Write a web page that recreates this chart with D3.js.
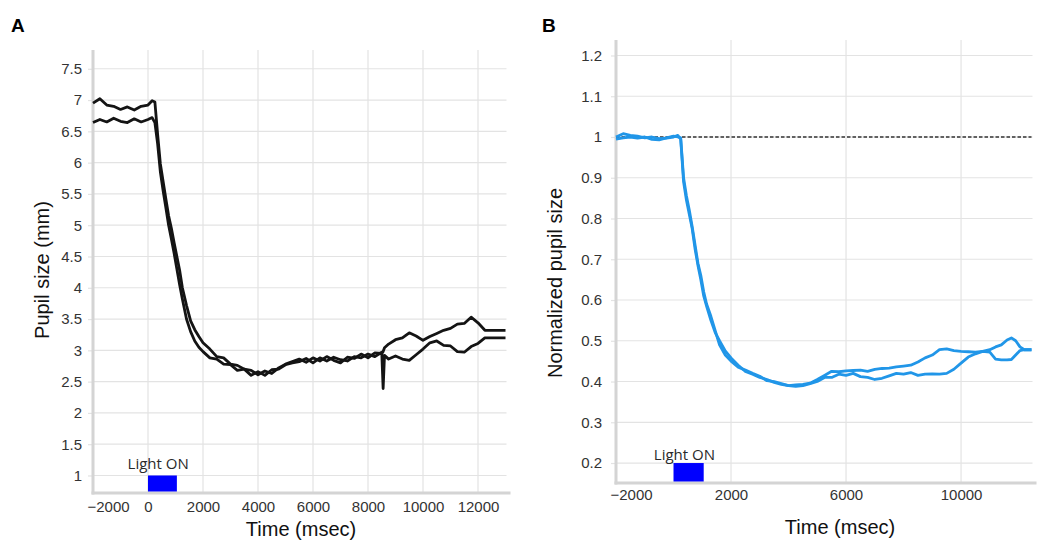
<!DOCTYPE html>
<meta charset="utf-8">
<style>
body { margin: 0; background: #fff; }
svg { display: block; font-family: "Open Sans", "Noto Sans", sans-serif; }
.grid line { stroke: #e3e3e3; stroke-width: 1.2px; }
.frame { stroke: #d4d4d4; stroke-width: 3px; }
.axis text { font-size: 15px; fill: #333; }
.axis line { stroke: #e3e3e3; stroke-width: 1.2px; }
.title { font-family: "Liberation Sans", Arial, sans-serif; font-size: 20px; fill: #111; }
.tag { font-family: "Liberation Sans", Arial, sans-serif; font-weight: bold; font-size: 19px; fill: #000; }
.light-label { font-size: 15px; fill: #2a2a2a; text-anchor: middle; }
</style>
<svg width="1048" height="541"></svg>
<script src="https://d3js.org/d3.v7.min.js"></script>
<script>

// ---- panel A : raw pupil size (mm), two traces
var timeA = [-2000, -1750, -1500, -1250, -1000, -750, -500, -250, 0, 150, 250, 350, 450, 550, 650, 750, 850, 950, 1050, 1150,
             1250, 1400, 1550, 1700, 1850, 2000, 2250, 2500, 2750, 3000, 3250, 3500, 3750, 4000, 4250, 4500, 4750, 5000, 5250, 5500,
             5750, 6000, 6250, 6500, 6750, 7000, 7250, 7500, 7750, 8000, 8250, 8500, 8550, 8600, 8750, 9000, 9250, 9500, 9750, 10000,
             10250, 10500, 10750, 11000, 11250, 11500, 11750, 12000, 12250, 12500, 12750, 13000];
var pupilA1 = [6.95, 7.02, 6.92, 6.9, 6.85, 6.89, 6.84, 6.9, 6.92, 6.99, 6.97, 6.45, 5.98, 5.7, 5.42, 5.15, 4.95, 4.72, 4.5, 4.28,
               4.0, 3.72, 3.47, 3.33, 3.22, 3.12, 3.02, 2.9, 2.88, 2.78, 2.76, 2.7, 2.68, 2.61, 2.67, 2.63, 2.72, 2.78, 2.82, 2.86,
               2.81, 2.88, 2.83, 2.9, 2.84, 2.8, 2.89, 2.87, 2.94, 2.88, 2.96, 2.95, 2.98, 3.04, 3.1, 3.17, 3.2, 3.28, 3.23, 3.16,
               3.22, 3.27, 3.32, 3.35, 3.42, 3.43, 3.53, 3.44, 3.32, 3.32, 3.32, 3.32];
var pupilA2 = [6.64, 6.69, 6.65, 6.71, 6.66, 6.64, 6.7, 6.65, 6.69, 6.72, 6.64, 6.3, 5.85, 5.55, 5.28, 5.0, 4.78, 4.55, 4.3, 4.05,
               3.82, 3.5, 3.3, 3.15, 3.05, 2.98, 2.88, 2.86, 2.78, 2.77, 2.68, 2.7, 2.6, 2.66, 2.6, 2.69, 2.7, 2.77, 2.8, 2.82,
               2.87, 2.8, 2.88, 2.83, 2.89, 2.85, 2.83, 2.9, 2.88, 2.94, 2.9, 2.97, 2.39, 2.92, 2.86, 2.91, 2.86, 2.84, 2.93, 3.02,
               3.12, 3.15, 3.08, 3.07, 2.98, 2.97, 3.06, 3.11, 3.2, 3.2, 3.2, 3.2];

// ---- panel B : normalized pupil size, two traces
var timeB = [-2000, -1750, -1500, -1250, -1000, -750, -500, -250, 0, 150, 250, 350, 450, 550, 650, 750, 850, 950, 1050, 1150,
             1300, 1450, 1600, 1800, 2000, 2250, 2500, 2750, 3000, 3250, 3500, 3750, 4000, 4250, 4500, 4750, 5000, 5250, 5500, 5750,
             6000, 6250, 6500, 6750, 7000, 7250, 7500, 7750, 8000, 8250, 8500, 8750, 9000, 9250, 9500, 9750, 10000, 10250, 10500, 10750,
             11000, 11200, 11400, 11600, 11750, 11900, 12050, 12200, 12450];
var normB1 = [1.0, 1.008, 1.004, 1.002, 0.998, 1.0, 0.996, 0.997, 1.0, 1.004, 0.995, 0.89, 0.845, 0.81, 0.775, 0.725, 0.685, 0.65, 0.61, 0.585,
              0.55, 0.52, 0.5, 0.475, 0.458, 0.44, 0.425, 0.418, 0.41, 0.405, 0.398, 0.393, 0.39, 0.392, 0.393, 0.396, 0.405, 0.415, 0.425, 0.424,
              0.426, 0.427, 0.428, 0.425, 0.43, 0.432, 0.433, 0.436, 0.438, 0.44, 0.448, 0.458, 0.465, 0.478, 0.48, 0.476, 0.474, 0.473, 0.472, 0.474,
              0.472, 0.455, 0.453, 0.453, 0.454, 0.465, 0.476, 0.478, 0.478];
var normB2 = [0.995, 0.998, 1.0, 0.997, 1.0, 0.994, 0.993, 0.998, 1.002, 1.0, 0.998, 0.9, 0.855, 0.82, 0.78, 0.735, 0.69, 0.66, 0.62, 0.59,
              0.56, 0.525, 0.49, 0.465, 0.45, 0.435, 0.428, 0.42, 0.413, 0.402, 0.4, 0.395, 0.39, 0.388, 0.39, 0.395, 0.4, 0.41, 0.41, 0.418,
              0.415, 0.42, 0.412, 0.41, 0.405, 0.408, 0.414, 0.42, 0.418, 0.422, 0.415, 0.418, 0.419, 0.418, 0.42, 0.43, 0.445, 0.46, 0.468, 0.474,
              0.478, 0.485, 0.49, 0.502, 0.507, 0.5, 0.485, 0.478, 0.478];

// ticks
var xTicksA = [-2000, 0, 2000, 4000, 6000, 8000, 10000, 12000];
var yTicksA = [1, 1.5, 2, 2.5, 3, 3.5, 4, 4.5, 5, 5.5, 6, 6.5, 7, 7.5];
var xTicksB = [-2000, 2000, 6000, 10000];
var yTicksB = [0.2, 0.3, 0.4, 0.5, 0.6, 0.7, 0.8, 0.9, 1, 1.1, 1.2];

var lightOn = [0, 1050];   // stimulus window, msec

var svg = d3.select("svg");
svg.append("rect").attr("width", 1048).attr("height", 541).attr("fill", "#fff");

function panel(p) {
  var g = svg.append("g");
  var x = p.x, y = p.y;
  var x0 = x.range()[0], x1 = x.range()[1], yb = y.range()[0], yt = y.range()[1];

  // grid
  var grid = g.append("g").attr("class", "grid");
  grid.selectAll("line.h").data(p.yTicks).enter().append("line").attr("class", "h")
      .attr("x1", x0).attr("x2", x1 + 1)
      .attr("y1", function(d) { return y(d); }).attr("y2", function(d) { return y(d); });
  grid.selectAll("line.v").data(p.xTicks.filter(function(d) { return d > x.domain()[0]; })).enter().append("line").attr("class", "v")
      .attr("x1", function(d) { return x(d); }).attr("x2", function(d) { return x(d); })
      .attr("y1", yt).attr("y2", yb);

  // axes (labels + little ticks on the left)
  var ya = g.append("g").attr("class", "axis").attr("transform", "translate(" + x0 + ",0)")
      .call(d3.axisLeft(y).tickValues(p.yTicks).tickSize(5).tickPadding(p.yPad).tickFormat(d3.format("")));
  ya.select(".domain").remove();

  var xa = g.append("g").attr("class", "axis").attr("transform", "translate(0," + yb + ")")
      .call(d3.axisBottom(x).tickValues(p.xTicks).tickSize(0).tickPadding(p.xPad).tickFormat(d3.format("")));
  xa.select(".domain").remove();
  xa.selectAll(".tick").filter(function(d) { return d === x.domain()[0]; })
      .select("text").attr("text-anchor", "start").attr("x", -6);

  // frame
  g.append("line").attr("class", "frame").attr("x1", x0).attr("x2", x0).attr("y1", yt).attr("y2", yb + 1.5);
  g.append("line").attr("class", "frame").attr("x1", x0 - 1.5).attr("x2", x1 + 5).attr("y1", yb).attr("y2", yb);

  // reference line
  if (p.refLine != null) {
    g.append("line")
        .attr("x1", x0).attr("x2", x1)
        .attr("y1", y(p.refLine)).attr("y2", y(p.refLine))
        .attr("stroke", "#333").attr("stroke-width", 1.6).attr("stroke-dasharray", "3.5,2");
  }

  // light stimulus
  g.append("rect")
      .attr("x", x(lightOn[0])).attr("width", x(lightOn[1]) - x(lightOn[0]))
      .attr("y", y(p.lightTop)).attr("height", yb - y(p.lightTop) - 1.5)
      .attr("fill", "#0000ff");
  g.append("text").attr("class", "light-label")
      .attr("x", x(p.lightLabelT)).attr("y", y(p.lightTop) - p.lightLabelGap)
      .text("Light ON");

  // traces
  var line = d3.line().x(function(d) { return x(d[0]); }).y(function(d) { return y(d[1]); });
  p.series.forEach(function(s) {
    g.append("path")
        .datum(d3.zip(p.time, s))
        .attr("d", line)
        .attr("fill", "none")
        .attr("stroke", p.color)
        .attr("stroke-width", 2.8)
        .attr("stroke-linejoin", "round");
  });

  // titles
  g.append("text").attr("class", "title").attr("text-anchor", "middle")
      .attr("x", p.xTitle[0]).attr("y", p.xTitle[1]).text("Time (msec)");
  g.append("text").attr("class", "title").attr("text-anchor", "middle")
      .attr("transform", "translate(" + p.yTitle[0] + "," + p.yTitle[1] + ") rotate(-90)")
      .text(p.yLabel);
  g.append("text").attr("class", "tag").attr("x", p.tag[0]).attr("y", p.tag[1]).text(p.tag[2]);
}

panel({
  x: d3.scaleLinear().domain([-2000, 13000]).range([93, 505.5]),
  y: d3.scaleLinear().domain([0.72, 7.8]).range([493, 50]),
  xTicks: xTicksA, yTicks: yTicksA, xPad: 8, yPad: 6,
  time: timeA, series: [pupilA1, pupilA2], color: "#141414",
  lightTop: 1, lightLabelT: 370, lightLabelGap: 6,
  xTitle: [301, 536], yTitle: [49, 270], yLabel: "Pupil size (mm)",
  tag: [11, 32, "A"]
});

panel({
  x: d3.scaleLinear().domain([-2000, 12450]).range([616, 1031.5]),
  y: d3.scaleLinear().domain([0.151, 1.238]).range([483, 40]),
  xTicks: xTicksB, yTicks: yTicksB, xPad: 6, yPad: 9,
  time: timeB, series: [normB1, normB2], color: "#2196e8",
  refLine: 1,
  lightTop: 0.2, lightLabelT: 380, lightLabelGap: 3,
  xTitle: [840, 534], yTitle: [562, 283], yLabel: "Normalized pupil size",
  tag: [542, 32, "B"]
});

</script>
